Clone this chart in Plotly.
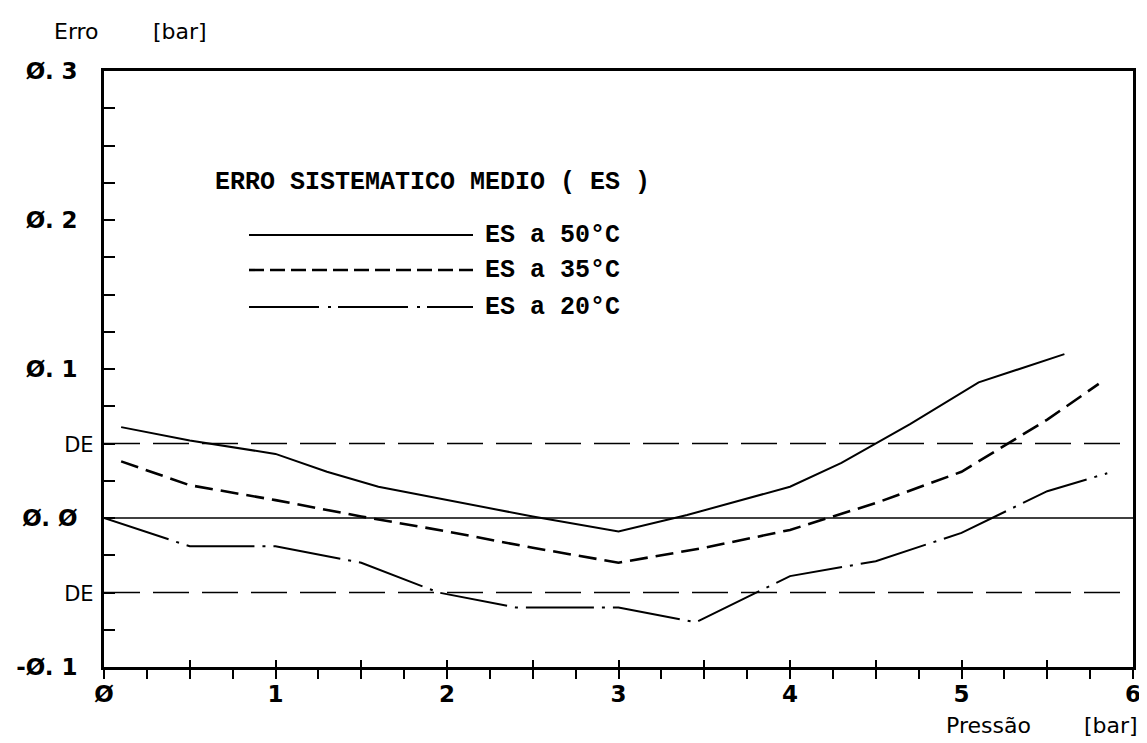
import plotly.graph_objects as go

# ---- data ----
x_50 = [0.1, 0.5, 1.0, 1.3, 1.6, 2.0, 2.5, 3.0, 3.4, 4.0, 4.3, 4.7, 5.1, 5.6]
y_50 = [0.061, 0.052, 0.043, 0.031, 0.021, 0.012, 0.001, -0.009, 0.002, 0.021, 0.037, 0.063, 0.091, 0.110]

x_35 = [0.1, 0.5, 1.0, 1.5, 2.0, 2.5, 3.0, 3.5, 4.0, 4.5, 5.0, 5.5, 5.8]
y_35 = [0.038, 0.022, 0.012, 0.001, -0.009, -0.020, -0.030, -0.020, -0.008, 0.010, 0.031, 0.066, 0.090]

x_20 = [0.0, 0.5, 1.0, 1.5, 1.95, 2.4, 3.0, 3.45, 4.0, 4.5, 5.0, 5.5, 5.85]
y_20 = [0.0, -0.019, -0.019, -0.030, -0.050, -0.060, -0.060, -0.070, -0.039, -0.029, -0.010, 0.018, 0.030]

de_level = 0.05
x_range = [0, 6]
y_range = [-0.1, 0.3]

x_labels = {0: "Ø", 1: "1", 2: "2", 3: "3", 4: "4", 5: "5", 6: "6"}
y_labels = {0.3: "Ø. 3", 0.2: "Ø. 2", 0.1: "Ø. 1", 0.05: "DE", 0.0: "Ø. Ø", -0.05: "DE", -0.1: "-Ø. 1"}

legend_title = "ERRO SISTEMATICO MEDIO ( ES )"
legend_names = ["ES a 50°C", "ES a 35°C", "ES a 20°C"]

# ---- layout geometry ----
# the page body adds an 8px offset, so the figure is drawn 8px smaller
OFF = 8
W, H = 1147 - OFF, 743 - OFF
SL, SR, ST, SB = 104, 1133, 71, 667      # wanted plot box on screen
L, T = SL - OFF, ST - OFF
R, B = W - (SR - OFF), H - (SB - OFF)
PW, PH = SR - SL, SB - ST


def px(p):
    return (p - SL) / PW


def py(p):
    return (SB - p) / PH


FONT = "DejaVu Sans"
MONO = "Liberation Mono"
DASHDOT = "68px,8px,3px,8px"
fig = go.Figure()

# reference lines
fig.add_trace(go.Scatter(x=x_range, y=[0, 0], mode="lines", xaxis="x2",
                         line=dict(color="black", width=1.3), showlegend=False, hoverinfo="skip"))
for lvl in (de_level, -de_level):
    fig.add_trace(go.Scatter(x=x_range, y=[lvl, lvl], mode="lines",
                             line=dict(color="black", width=1.3, dash="36px,13px"),
                             showlegend=False, hoverinfo="skip"))

# data series
fig.add_trace(go.Scatter(x=x_50, y=y_50, mode="lines", name=legend_names[0],
                         line=dict(color="black", width=2), showlegend=False))
fig.add_trace(go.Scatter(x=x_35, y=y_35, mode="lines", name=legend_names[1],
                         line=dict(color="black", width=2.6, dash="18px,8px"), showlegend=False))
fig.add_trace(go.Scatter(x=x_20, y=y_20, mode="lines", name=legend_names[2],
                         line=dict(color="black", width=2, dash=DASHDOT), showlegend=False))

# ticks
x_ticks = [i * 0.25 for i in range(25)]
x_text = [x_labels.get(int(v), "") if abs(v - round(v)) < 1e-9 else "" for v in x_ticks]
x_major = [i * 0.5 for i in range(13)]
y_ticks = [round(-0.1 + i * 0.025, 4) for i in range(17)]


def ylab(v):
    t = y_labels.get(round(v, 3), "")
    if t == "DE":
        return "<span style='font-size:21px;font-weight:normal'>DE</span>"
    if t:
        return t + "\u00a0\u00a0"
    return ""


y_text = [ylab(v) for v in y_ticks]

fig.update_layout(
    width=W, height=H,
    margin=dict(l=L, r=R, t=T, b=B, autoexpand=False),
    paper_bgcolor="white", plot_bgcolor="white",
    font=dict(family=FONT, color="black"),
    xaxis=dict(range=x_range, tickvals=x_ticks, ticktext=x_text, ticks="outside", ticklen=9,
               tickwidth=2, tickcolor="black", showgrid=False, zeroline=False,
               showline=True, linecolor="black", linewidth=2.5, mirror=True,
               tickfont=dict(size=23, family=FONT, weight="bold"), ticklabelstandoff=-4),
    xaxis2=dict(range=x_range, overlaying="x", side="bottom", anchor="y", tickvals=x_major,
                ticktext=["" for _ in x_major], ticks="inside", ticklen=7, tickwidth=2,
                tickcolor="black", showgrid=False, zeroline=False, showline=False),
    yaxis=dict(range=y_range, tickvals=y_ticks, ticktext=y_text, ticks="inside", ticklen=11,
               tickwidth=2, tickcolor="black", showgrid=False, zeroline=False,
               showline=True, linecolor="black", linewidth=2.5, mirror=True,
               tickfont=dict(size=23, family=FONT, weight="bold"), ticklabelstandoff=3),
)

# legend drawn as annotations + sample lines
ann = []
ann.append(dict(text=legend_title, x=px(213), y=py(183), xref="paper", yref="paper",
                xanchor="left", yanchor="middle", showarrow=False,
                font=dict(size=25, family=MONO, weight="bold")))
dashes = ["solid", "15px,6px", "70px,9px,3px,7px"]
widths = [2, 2.6, 2]
rows = [235, 270, 307]
for name, dsh, wd, r in zip(legend_names, dashes, widths, rows):
    fig.add_shape(type="line", xref="paper", yref="paper", x0=px(249), x1=px(473),
                  y0=py(r), y1=py(r), line=dict(color="black", width=wd, dash=dsh))
    ann.append(dict(text=name, x=px(483), y=py(r), xref="paper", yref="paper",
                    xanchor="left", yanchor="middle", showarrow=False,
                    font=dict(size=25, family=MONO, weight="bold")))

# axis titles
for txt, xx, yy in [("Erro", 52, 31), ("[bar]", 151, 31), ("Pressão", 944, 725), ("[bar]", 1082, 725)]:
    ann.append(dict(text=txt, x=px(xx), y=py(yy), xref="paper", yref="paper", xanchor="left",
                    yanchor="middle", showarrow=False, font=dict(size=22, family=FONT)))
fig.update_layout(annotations=ann)

fig.write_html("out.html")
